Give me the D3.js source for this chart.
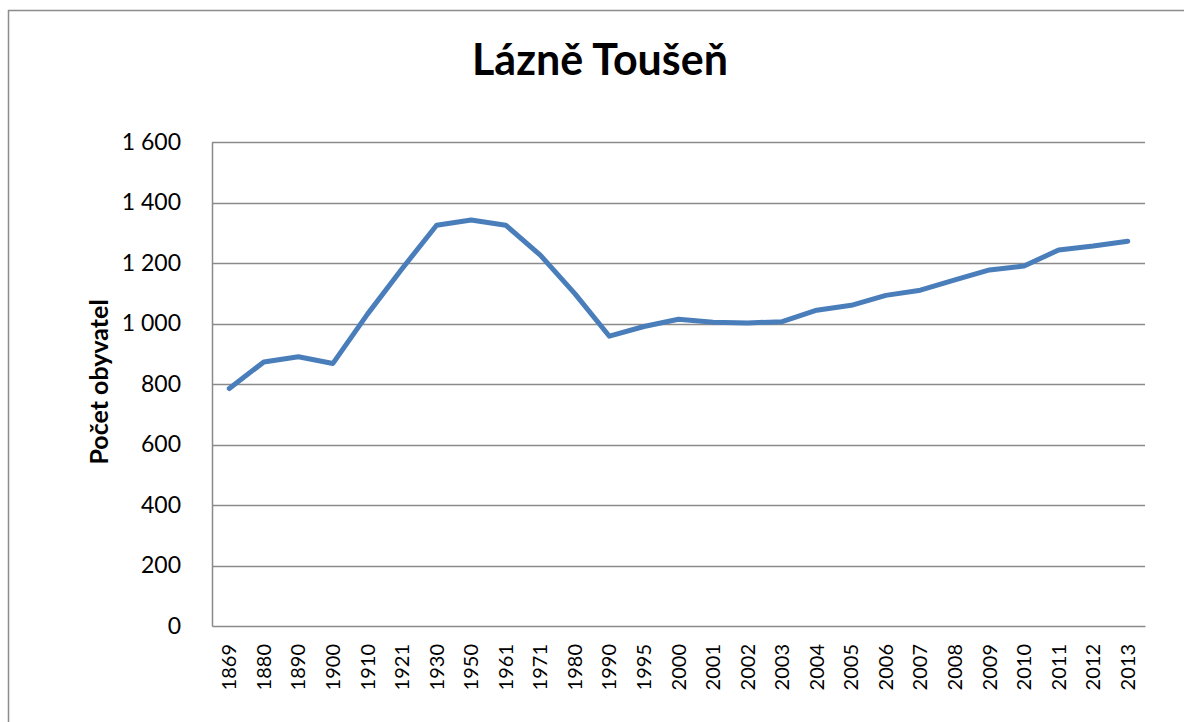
<!DOCTYPE html>
<html>
<head>
<meta charset="utf-8">
<script src="https://cdn.jsdelivr.net/npm/d3@7"></script>
<style>
  body { margin: 0; background: #fff; }
  svg text { font-family: Lato, "Open Sans", sans-serif; fill: #000; }
</style>
</head>
<body>
<div id="chart"></div>
<script>
// data
var years = ["1869","1880","1890","1900","1910","1921","1930","1950","1961","1971","1980",
  "1990","1995","2000","2001","2002","2003","2004","2005","2006","2007","2008","2009",
  "2010","2011","2012","2013"]
var population = [785, 873, 890, 868, 1031, 1181, 1325, 1342, 1325, 1226, 1099,
  958, 990, 1014, 1004, 1002, 1006, 1044, 1060, 1093, 1110, 1144, 1177,
  1190, 1243, 1256, 1272]
var yTicks = [0, 200, 400, 600, 800, 1000, 1200, 1400, 1600]

var title = "Lázně Toušeň"
var yLabel = "Počet obyvatel"

var W = 1184, H = 722
var plot = {left: 212, right: 1145, top: 142, bottom: 626}

var svg = d3.select("#chart").append("svg")
  .attr("width", W).attr("height", H)

// outer chart frame
svg.append("rect")
  .attr("x", 8.5).attr("y", 10.5)
  .attr("width", W).attr("height", H)
  .attr("fill", "none").attr("stroke", "#8c8c8c").attr("stroke-width", 1.5)

var x = d3.scaleBand().domain(years).range([plot.left, plot.right])
var y = d3.scaleLinear().domain([0, 1600]).range([plot.bottom, plot.top])

// gridlines
svg.append("g").selectAll("line").data(yTicks.filter(d => d > 0)).enter()
  .append("line")
  .attr("x1", plot.left).attr("x2", plot.right)
  .attr("y1", d => Math.round(y(d)) + 0.5).attr("y2", d => Math.round(y(d)) + 0.5)
  .attr("stroke", "#8a8a8a").attr("stroke-width", 1.5)

// y axis
var fmt = function(d) { return d3.format(",")(d).replace(/,/g, " ") }
var yAxis = svg.append("g")
  .attr("transform", "translate(" + plot.left + ",0)")
  .call(d3.axisLeft(y).tickValues(yTicks).tickSize(0).tickPadding(31).tickFormat(fmt))
yAxis.select(".domain").attr("stroke", "#8a8a8a").attr("stroke-width", 1.5)
yAxis.selectAll("text").style("font-size", "23px")

// x axis
var xAxis = svg.append("g")
  .attr("transform", "translate(0," + plot.bottom + ")")
  .call(d3.axisBottom(x).tickSize(0).tickSizeOuter(0))
xAxis.select(".domain").attr("stroke", "#8a8a8a").attr("stroke-width", 1.5)
xAxis.selectAll("text")
  .style("font-size", "20px")
  .attr("transform", "rotate(-90)")
  .attr("text-anchor", "end")
  .attr("x", -18).attr("y", 0).attr("dy", "0.35em")

// series line
var line = d3.line()
  .x((d, i) => x(years[i]) + x.bandwidth() / 2)
  .y(d => y(d))

svg.append("path")
  .datum(population)
  .attr("d", line)
  .attr("fill", "none")
  .attr("stroke", "#4a7ebb")
  .attr("stroke-width", 5)
  .attr("stroke-linejoin", "round")
  .attr("stroke-linecap", "round")

// title
svg.append("text")
  .attr("x", 600).attr("y", 75)
  .attr("text-anchor", "middle")
  .style("font-size", "43px").style("font-weight", "bold")
  .text(title)

// y axis title
svg.append("text")
  .attr("transform", "translate(108," + 382 + ") rotate(-90)")
  .attr("text-anchor", "middle")
  .style("font-size", "25px").style("font-weight", "bold")
  .text(yLabel)
</script>
</body>
</html>
